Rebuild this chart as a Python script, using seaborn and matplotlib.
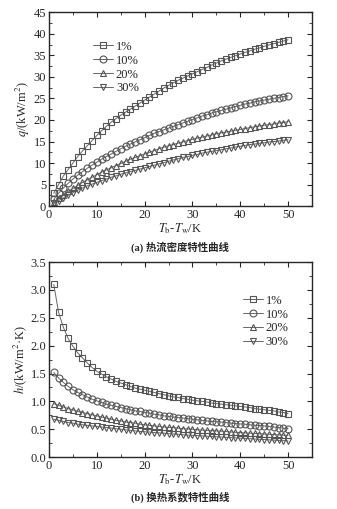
import numpy as np
import pandas as pd
import seaborn as sns
import matplotlib.pyplot as plt
from matplotlib.ticker import MultipleLocator

# Temperature difference Tb - Tw (K)
dT = list(range(1, 51))

# Heat flux q (kW/m2) (a)
q_1 = [3.0, 5.0, 7.0, 8.5, 10.0, 11.5, 12.8, 14.0, 15.2, 16.4,
       17.5, 18.5, 19.5, 20.3, 21.1, 21.8, 22.5, 23.2, 23.9, 24.6,
       25.3, 26.0, 26.7, 27.4, 28.0, 28.6, 29.2, 29.7, 30.2, 30.7,
       31.2, 31.7, 32.2, 32.7, 33.2, 33.7, 34.1, 34.5, 34.9, 35.3,
       35.7, 36.0, 36.4, 36.7, 37.1, 37.4, 37.7, 38.0, 38.3, 38.6]
q_10 = [1.6, 3.0, 4.2, 5.3, 6.3, 7.2, 8.0, 8.8, 9.5, 10.2,
        10.9, 11.5, 12.1, 12.7, 13.3, 13.9, 14.4, 14.9, 15.4, 15.9,
        16.4, 16.9, 17.3, 17.7, 18.1, 18.5, 18.9, 19.3, 19.7, 20.1,
        20.5, 20.9, 21.2, 21.6, 21.9, 22.2, 22.5, 22.8, 23.1, 23.4,
        23.7, 23.9, 24.2, 24.4, 24.6, 24.8, 25.0, 25.2, 25.4, 25.6]
q_20 = [0.95, 1.8, 2.6, 3.4, 4.1, 4.8, 5.5, 6.1, 6.7, 7.3,
        7.9, 8.4, 8.9, 9.4, 9.9, 10.4, 10.9, 11.3, 11.7, 12.1,
        12.5, 12.9, 13.3, 13.7, 14.0, 14.3, 14.6, 14.9, 15.2, 15.5,
        15.8, 16.0, 16.3, 16.5, 16.8, 17.0, 17.2, 17.4, 17.6, 17.8,
        18.0, 18.2, 18.4, 18.6, 18.8, 18.9, 19.1, 19.3, 19.4, 19.6]
q_30 = [0.7, 1.3, 1.9, 2.5, 3.1, 3.7, 4.2, 4.7, 5.1, 5.5,
        5.9, 6.3, 6.7, 7.0, 7.4, 7.7, 8.0, 8.3, 8.6, 8.9,
        9.2, 9.5, 9.8, 10.1, 10.4, 10.7, 11.0, 11.3, 11.5, 11.8,
        12.0, 12.3, 12.5, 12.7, 12.9, 13.1, 13.3, 13.5, 13.7, 13.9,
        14.1, 14.3, 14.4, 14.6, 14.7, 14.9, 15.0, 15.1, 15.3, 15.4]

# Heat transfer coefficient h (kW/m2K) (b)
h_1 = [3.10, 2.60, 2.33, 2.13, 1.99, 1.87, 1.78, 1.69, 1.61, 1.54,
       1.49, 1.44, 1.40, 1.36, 1.33, 1.30, 1.27, 1.24, 1.22, 1.20,
       1.18, 1.16, 1.14, 1.12, 1.10, 1.08, 1.07, 1.05, 1.04, 1.02,
       1.01, 1.00, 0.99, 0.97, 0.96, 0.95, 0.94, 0.93, 0.92, 0.91,
       0.90, 0.89, 0.87, 0.86, 0.85, 0.84, 0.83, 0.81, 0.80, 0.78]
h_10 = [1.52, 1.42, 1.34, 1.27, 1.21, 1.16, 1.12, 1.08, 1.04, 1.01,
        0.98, 0.95, 0.93, 0.91, 0.89, 0.87, 0.85, 0.83, 0.82, 0.80,
        0.79, 0.77, 0.76, 0.74, 0.73, 0.72, 0.71, 0.70, 0.69, 0.68,
        0.67, 0.66, 0.65, 0.64, 0.635, 0.63, 0.62, 0.61, 0.60, 0.595,
        0.59, 0.58, 0.57, 0.565, 0.56, 0.55, 0.54, 0.53, 0.52, 0.51]
h_20 = [0.96, 0.93, 0.90, 0.87, 0.85, 0.82, 0.80, 0.78, 0.76, 0.74,
        0.72, 0.70, 0.68, 0.66, 0.65, 0.63, 0.62, 0.61, 0.59, 0.58,
        0.57, 0.56, 0.55, 0.54, 0.535, 0.53, 0.52, 0.51, 0.505, 0.50,
        0.49, 0.485, 0.48, 0.475, 0.47, 0.465, 0.46, 0.45, 0.445, 0.44,
        0.435, 0.43, 0.425, 0.42, 0.415, 0.41, 0.405, 0.40, 0.395, 0.39]
h_30 = [0.68, 0.66, 0.64, 0.62, 0.61, 0.59, 0.58, 0.57, 0.56, 0.55,
        0.54, 0.53, 0.52, 0.51, 0.50, 0.49, 0.48, 0.47, 0.46, 0.455,
        0.45, 0.44, 0.435, 0.43, 0.42, 0.415, 0.41, 0.40, 0.395, 0.39,
        0.385, 0.38, 0.375, 0.37, 0.365, 0.36, 0.355, 0.35, 0.345, 0.34,
        0.335, 0.33, 0.325, 0.32, 0.315, 0.31, 0.305, 0.30, 0.295, 0.29]

labels = ['1%', '10%', '20%', '30%']
markers = ['s', 'o', '^', 'v']

sns.set_style('ticks')
plt.rcParams['font.family'] = ['Liberation Serif', 'Noto Sans CJK SC']
plt.rcParams['mathtext.fontset'] = 'stix'
plt.rcParams['axes.linewidth'] = 1.0

fig = plt.figure(figsize=(3.37, 5.09), dpi=100)
ax1 = fig.add_axes([0.1454, 0.595, 0.7804, 0.381])
ax2 = fig.add_axes([0.1454, 0.102, 0.7804, 0.383])


def draw(ax, series):
    for ys, lab, mk in zip(series, labels, markers):
        df = pd.DataFrame({'x': dT, 'y': ys})
        sns.lineplot(data=df, x='x', y='y', ax=ax, color='#666666', lw=0.7,
                     marker=mk, markersize=5, mfc='none', mec='#555555',
                     mew=0.8, label=lab)
    ax.set_xlim(0, 55)
    ax.xaxis.set_major_locator(MultipleLocator(10))
    ax.xaxis.set_minor_locator(MultipleLocator(5))
    ax.tick_params(which='both', direction='in', top=True, right=True,
                   labelsize=9, pad=2)
    ax.tick_params(which='major', length=3.5)
    ax.tick_params(which='minor', length=2)
    ax.set_xlabel(r'$T_{\rm b}$-$T_{\rm w}$/K', fontsize=9, labelpad=0)


draw(ax1, [q_1, q_10, q_20, q_30])
ax1.set_ylim(0, 45)
ax1.yaxis.set_major_locator(MultipleLocator(5))
ax1.yaxis.set_minor_locator(MultipleLocator(2.5))
ax1.set_ylabel(r'$q$/(kW/m$^2$)', fontsize=9, labelpad=1)
ax1.legend(loc='upper left', bbox_to_anchor=(0.145, 0.885), frameon=False,
           fontsize=9, handlelength=1.6, handletextpad=0.2,
           labelspacing=0.15, borderpad=0)

draw(ax2, [h_1, h_10, h_20, h_30])
ax2.set_ylim(0, 3.5)
ax2.yaxis.set_major_locator(MultipleLocator(0.5))
ax2.yaxis.set_minor_locator(MultipleLocator(0.25))
ax2.yaxis.set_major_formatter(plt.FormatStrFormatter('%.1f'))
ax2.set_ylabel(r'$h$/(kW/m$^2$·K)', fontsize=9, labelpad=1)
ax2.legend(loc='upper left', bbox_to_anchor=(0.715, 0.865), frameon=False,
           fontsize=9, handlelength=1.6, handletextpad=0.2,
           labelspacing=0.15, borderpad=0)

fig.text(0.534, 1 - 247 / 509, '(a) 热流密度特性曲线', ha='center', va='center',
         fontsize=7.5, fontweight='bold')
fig.text(0.534, 1 - 497 / 509, '(b) 换热系数特性曲线', ha='center', va='center',
         fontsize=7.5, fontweight='bold')

fig.savefig('out.png', dpi=100, facecolor='white')
